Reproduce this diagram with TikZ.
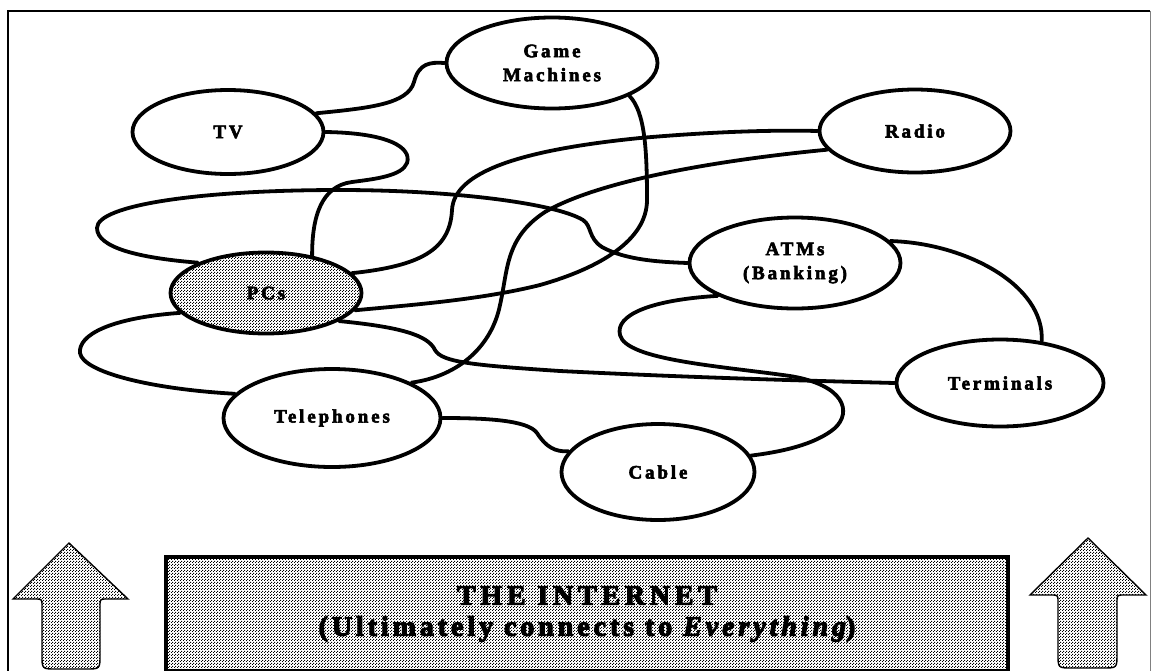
\documentclass[tikz,border=0pt]{standalone}
\usepackage{fontspec}
\setmainfont{Liberation Serif}
\newfontfamily\lblfont[LetterSpace=15,FakeBold=3]{Liberation Serif Bold}
\newfontfamily\netfontA[LetterSpace=17,FakeBold=4]{Liberation Serif Bold}
\newfontfamily\netfontB[LetterSpace=14,FakeBold=4]{Liberation Serif Bold}
\newfontfamily\netfontI[LetterSpace=14,FakeBold=4]{Liberation Serif Bold Italic}
\usetikzlibrary{shapes.geometric,patterns.meta}
\tikzdeclarepattern{
  name=halftone,
  type=uncolored,
  bounding box={(0pt,0pt) and (3pt,3pt)},
  tile size={(3pt,3pt)},
  code={
    \fill (0pt,0pt) rectangle (1.3pt,1.3pt);
    \fill (1.5pt,1.5pt) rectangle (2.8pt,2.8pt);
  }
}
\begin{document}
\begin{tikzpicture}[x=1pt,y=-1pt,
  dev/.style={ellipse, draw, line width=3.8pt, fill=white, inner sep=0pt,
    font=\lblfont\fontsize{19}{24}\selectfont, align=center},
  conn/.style={line width=3.8pt, line cap=round},
  shade/.style={fill=white, postaction={pattern=halftone, pattern color=black}},
  arrowsty/.style={draw, line width=1.4pt, shade},
  netbox/.style={rectangle, draw, line width=3.4pt, shade, align=center,
    font=\netfontB\fontsize{28}{31}\selectfont}
]
\useasboundingbox (0,0) rectangle (1152,670);
\fill[white] (0,0) rectangle (1152,670);

% frame
\draw[line width=2.4pt] (8,700) -- (8,11) -- (1150,11);
\draw[line width=0.8pt, gray] (1150,11) -- (1150,700);

% devices
\node[dev, minimum width=191, minimum height=84] (tv) at (228,132) {TV};
\node[dev, minimum width=211, minimum height=91] (game) at (552,63) {Game\\Machines};
\node[dev, minimum width=191, minimum height=83] (radio) at (915,131) {Radio};
\node[dev, shade, minimum width=191, minimum height=81] (pcs) at (266,293) {PCs};
\node[dev, minimum width=211, minimum height=91] (atm) at (795,263) {ATMs\\(Banking)};
\node[dev, minimum width=207, minimum height=87] (term) at (1000,383) {Terminals};
\node[dev, minimum width=217, minimum height=98] (tel) at (332,418) {Telephones};
\node[dev, minimum width=193, minimum height=96] (cable) at (658,472) {Cable};

% connectors
\draw[conn] (tv.12) .. controls (370,108) and (408,104) .. (414,82)
  .. controls (419,63) and (430,62) .. (game.180);
\draw[conn] (tv.0) .. controls (390,133) and (412,148) .. (407,163)
  .. controls (402,176) and (375,179) .. (352,182)
  .. controls (322,186) and (312,215) .. (pcs.39);
\draw[conn] (pcs.156) .. controls (140,258) and (97,248) .. (97,228)
  .. controls (97,205) and (200,190) .. (340,190)
  .. controls (450,190) and (555,203) .. (583,220)
  .. controls (592,226) and (588,238) .. (602,247)
  .. controls (625,260) and (660,262) .. (atm.180);
\draw[conn] (pcs.13) .. controls (420,266) and (450,250) .. (452,210)
  .. controls (454,172) and (520,150) .. (640,138)
  .. controls (720,131) and (780,130) .. (radio.180);
\draw[conn] (game.-23.5) .. controls (645,112) and (647,150) .. (647,200)
  .. controls (647,240) and (600,268) .. (540,285)
  .. controls (480,300) and (410,305) .. (pcs.-11);
\draw[conn] (pcs.-21) .. controls (400,327) and (428,335) .. (435,350)
  .. controls (442,362) and (470,365) .. (560,371)
  .. controls (700,378) and (820,381) .. (term.180);
\draw[conn] (radio.192) .. controls (720,160) and (600,180) .. (545,212)
  .. controls (505,238) and (508,270) .. (500,305)
  .. controls (492,345) and (460,376) .. (tel.24.5);
\draw[conn] (pcs.193) .. controls (110,318) and (78,335) .. (80,353)
  .. controls (83,372) and (150,389) .. (tel.166);
\draw[conn] (tel.0) .. controls (485,418) and (528,420) .. (537,433)
  .. controls (546,447) and (555,452) .. (cable.167);
\draw[conn] (atm.203) .. controls (650,300) and (615,315) .. (620,335)
  .. controls (626,360) and (720,366) .. (790,376)
  .. controls (845,385) and (852,412) .. (835,428)
  .. controls (815,445) and (780,452) .. (cable.10);
\draw[conn] (atm.13) .. controls (965,243) and (1045,285) .. (term.45);

% the internet box
\node[netbox, minimum width=842, minimum height=114] (inet) at (587,614)
  {{\netfontA THE INTERNET}\\
   (Ultimately connects to {\netfontI Everything})};

% arrows
\path[arrowsty] (56,669) -- (86,669) .. controls (100,669) .. (100,655) -- (100,606)
  .. controls (100,599) .. (107,599) -- (128,599) -- (69,543) -- (13,599) -- (35,599)
  .. controls (42,599) .. (42,606) -- (42,655) .. controls (42,669) .. (56,669) -- cycle;
\path[arrowsty] (1072,668) -- (1103,668) .. controls (1117,668) .. (1117,654) -- (1117,602)
  .. controls (1117,595) .. (1124,595) -- (1146,595) -- (1088,538) -- (1030,595) -- (1051,595)
  .. controls (1058,595) .. (1058,602) -- (1058,654) .. controls (1058,668) .. (1072,668) -- cycle;
\end{tikzpicture}
\end{document}
